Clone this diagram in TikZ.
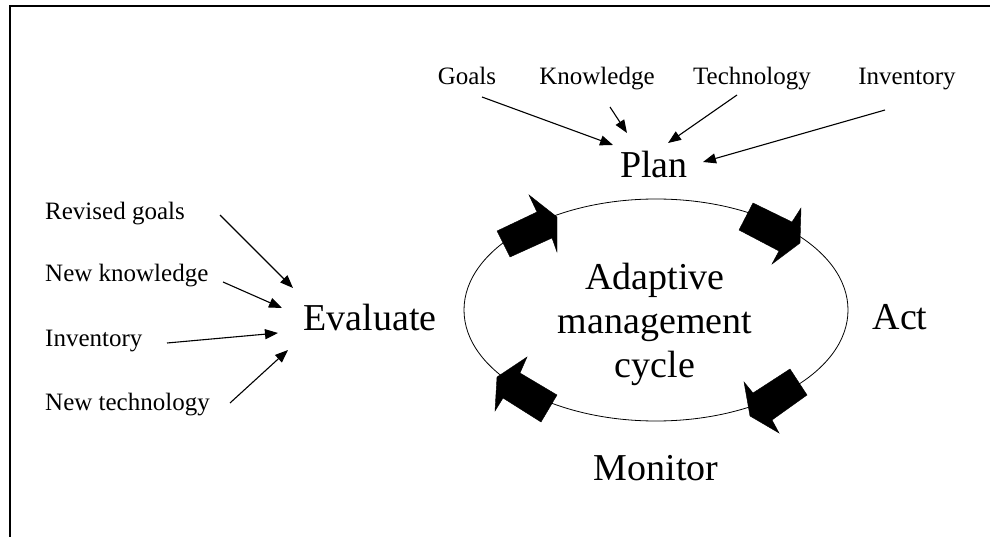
\documentclass[tikz,border=0pt]{standalone}
\usepackage{fontspec}
\setmainfont{Liberation Serif}
\usetikzlibrary{arrows.meta,shapes.geometric}
\begin{document}
\begin{tikzpicture}[x=1pt,y=-1pt,
  big/.style={font=\fontsize{38}{44}\selectfont, inner sep=0pt},
  small/.style={font=\fontsize{25}{30}\selectfont, inner sep=0pt},
  arr/.style={-{Triangle[length=13pt,width=10pt]}, line width=1.1pt},
  blk/.style={fill=black, draw=black, line width=0.4pt, line join=miter},
  frame/.style={line width=2pt}]
\useasboundingbox (0,0) rectangle (990,537);
% frame
\draw[frame] (10,537) -- (10,6) -- (990,6);
% cycle ellipse
\node[draw, ellipse, line width=0.8pt, minimum width=384pt, minimum height=222pt, inner sep=0pt] (ell) at (656,310) {};
\node[big, align=center, anchor=center] (cyc) at (655,324) {Adaptive\\management\\cycle};
% stage labels
\node[big, anchor=base] (plan) at (654,178) {Plan};
\node[big, anchor=base] (act) at (900,329) {Act};
\node[big, anchor=base] (mon) at (656,480) {Monitor};
\node[big, anchor=base] (eval) at (370,330) {Evaluate};
% block arrows
\filldraw[blk] (497,231) -- (537,212) -- (529,195) -- (557,217) -- (557,252) -- (552,238) -- (510,257) -- cycle;
\filldraw[blk] (753,203) -- (792,222) -- (801,208) -- (800,243) -- (772,264) -- (779,251) -- (739,230) -- cycle;
\filldraw[blk] (790,369) -- (807,395) -- (772,420) -- (779,433) -- (750,416) -- (744,382) -- (753,393) -- cycle;
\filldraw[blk] (557,395) -- (520,373) -- (527,357) -- (497,377) -- (495,411) -- (503,398) -- (541,422) -- cycle;
% plan inputs
\node[small, anchor=base] (goals) at (467,85) {Goals};
\node[small, anchor=base] (know) at (597,85) {Knowledge};
\node[small, anchor=base] (tech) at (752,85) {Technology};
\node[small, anchor=base] (inv) at (907,85) {Inventory};
% evaluate inputs
\node[small, anchor=base west] (rgoals) at (45,220) {Revised goals};
\node[small, anchor=base west] (nknow) at (45,281) {New knowledge};
\node[small, anchor=base west] (ninv) at (45,346) {Inventory};
\node[small, anchor=base west] (ntech) at (45,410) {New technology};
% connector ends
\coordinate (goalsS) at (482,97);  \coordinate (goalsE) at (613,145);
\coordinate (knowS) at (610,107);  \coordinate (knowE) at (627,133);
\coordinate (techS) at (737,95);   \coordinate (techE) at (668,143);
\coordinate (invS) at (885,110);   \coordinate (invE) at (703,162);
\coordinate (rgS) at (220,215);    \coordinate (rgE) at (293,288);
\coordinate (nkS) at (223,282);    \coordinate (nkE) at (282,308);
\coordinate (niS) at (167,343);    \coordinate (niE) at (278,333);
\coordinate (ntS) at (230,403);    \coordinate (ntE) at (288,350);
\draw[arr] (goalsS) -- (goalsE);
\draw[arr] (knowS) -- (knowE);
\draw[arr] (techS) -- (techE);
\draw[arr] (invS) -- (invE);
\draw[arr] (rgS) -- (rgE);
\draw[arr] (nkS) -- (nkE);
\draw[arr] (niS) -- (niE);
\draw[arr] (ntS) -- (ntE);
\end{tikzpicture}
\end{document}
